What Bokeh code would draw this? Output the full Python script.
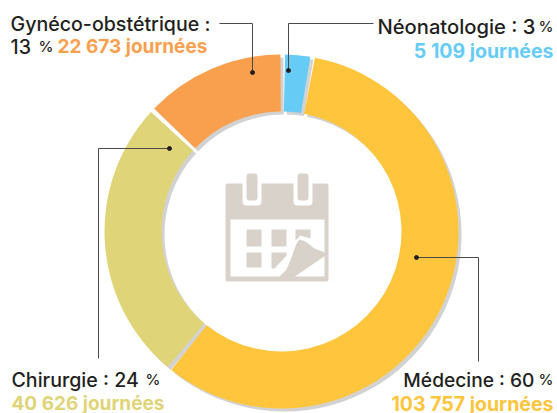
import math
from bokeh.plotting import figure
from bokeh.models import Range1d
from bokeh.core.properties import value
from bokeh.embed import file_html
from bokeh.resources import INLINE

W, H = 557, 413
PAGE_H = 413

categories = ["Néonatologie", "Médecine", "Chirurgie", "Gynéco-obstétrique"]
percent = [3, 60, 24, 13]
days = ["5 109", "103 757", "40 626", "22 673"]
# angular share of the ring per category, as drawn in the picture (%)
drawn_share = [2.7, 58.1, 26.1, 13.1]
colors = ["#66ccf6", "#fec53d", "#dfd478", "#f9a04f"]
SHADOW = "#d2d2d2"
ICON = "#d9d2cb"
INK = "#231f20"
FONT = value("Inter Medium")
BOLD = value("Inter")
TEXT_LIFT = 5


def X(px):
    return px


def Y(py):
    return PAGE_H - py


p = figure(width=W, height=H, output_backend="svg", toolbar_location=None,
           x_range=Range1d(0, W), y_range=Range1d(0, H),
           min_border=0, outline_line_color=None)
p.axis.visible = False
p.grid.visible = False
p.background_fill_color = "white"

CX, CY = 281, 231
R_OUT, R_IN = 177, 120
START = 0.4
GAP = 1.5
SHIFT = 3

angles = []
a = START
for s in drawn_share:
    b = a + s * 3.6
    angles.append((a, b))
    a = b


def rad(clockwise_deg):
    return math.radians(90 - clockwise_deg)


for dx, dy, cols in ((SHIFT, SHIFT, [SHADOW] * 4), (0, 0, colors)):
    for (a0, a1), c in zip(angles, cols):
        p.annular_wedge(x=X(CX + dx), y=Y(CY + dy), inner_radius=R_IN, outer_radius=R_OUT,
                        start_angle=rad(a1 - GAP / 2), end_angle=rad(a0 + GAP / 2),
                        fill_color=c, line_color=None)


def poly(pts, color, stroke=0):
    p.patch([X(x) for x, y in pts], [Y(y) for x, y in pts], fill_color=color,
            line_color=color if stroke else None, line_width=stroke, line_join="round")


def rect(x0, y0, x1, y1, color, stroke=0):
    s = stroke / 2
    poly([(x0 + s, y0 + s), (x1 - s, y0 + s), (x1 - s, y1 - s), (x0 + s, y1 - s)], color, stroke)


# calendar icon
rect(225, 183, 328, 281, ICON, 4)
rect(230, 219, 324, 276, "white")
for x0, x1 in ((242, 261), (293, 312)):
    rect(x0, 180, x1, 205, "white", 8)
for x0, x1 in ((246, 257), (297, 308)):
    rect(x0, 173, x1, 200, ICON, 6)
rect(246, 229, 261, 246, ICON)
rect(271, 229, 286, 246, ICON)
poly([(295, 229), (310, 229), (310, 238), (300, 235), (295, 240)], ICON)
rect(246, 252, 261, 267, ICON)
poly([(271, 252), (286, 252), (286, 255), (274, 268), (271, 268)], ICON)
poly([(278, 277), (286, 269), (291, 257), (296, 243), (299, 239), (305, 241), (314, 248), (322, 251),
      (325, 252), (325, 255), (293, 277)], ICON)

# leader lines
leaders = [
    [(288, 70), (288, 23), (373, 23)],
    [(252, 72), (252, 23), (219, 23)],
    [(169, 148), (98, 148), (98, 358)],
    [(416, 257), (478, 257), (478, 361)],
]
for pts in leaders:
    p.line([X(x) for x, y in pts], [Y(y) for x, y in pts], line_color="#4a4a4a", line_width=1)
    p.scatter([X(pts[0][0])], [Y(pts[0][1])], size=4, color=INK)


def label(x, y, txt, color, size=19.6, align="left", style="normal", font=FONT):
    p.text([X(x)], [Y(y - TEXT_LIFT)], text=[txt], text_color=color, text_font=font,
           text_font_size=f"{size}px", text_align=align, text_baseline="alphabetic",
           text_font_style=style)


SEP = "\u00a0:\u00a0"
# Néonatologie
label(535, 31, f"{categories[0]}{SEP}{percent[0]}", INK, 20.2, "right")
label(553, 31, "%", INK, 15, "right")
label(553, 55, f"{days[0]} journées", colors[0], 19.5, "right", "bold", BOLD)
# Gynéco
label(10, 28, f"{categories[3]}{SEP}", INK)
label(10, 51, f"{percent[3]}", INK)
label(38, 51, "%", INK, 15)
label(57, 51, f"{days[3]} journées", colors[3], 19, style="bold", font=BOLD)
# Chirurgie
label(11, 384, f"{categories[2]}{SEP}{percent[2]}", INK)
label(145, 384, "%", INK, 15)
label(11, 408, f"{days[2]} journées", colors[2], 19, style="bold", font=BOLD)
# Médecine
label(534, 384, f"{categories[1]}{SEP}{percent[1]}", INK, 19.2, "right")
label(553, 384, "%", INK, 15, "right")
label(553, 408, f"{days[1]} journées", colors[1], 19.5, "right", "bold", BOLD)

open("out.html", "w").write(file_html(p, INLINE))
